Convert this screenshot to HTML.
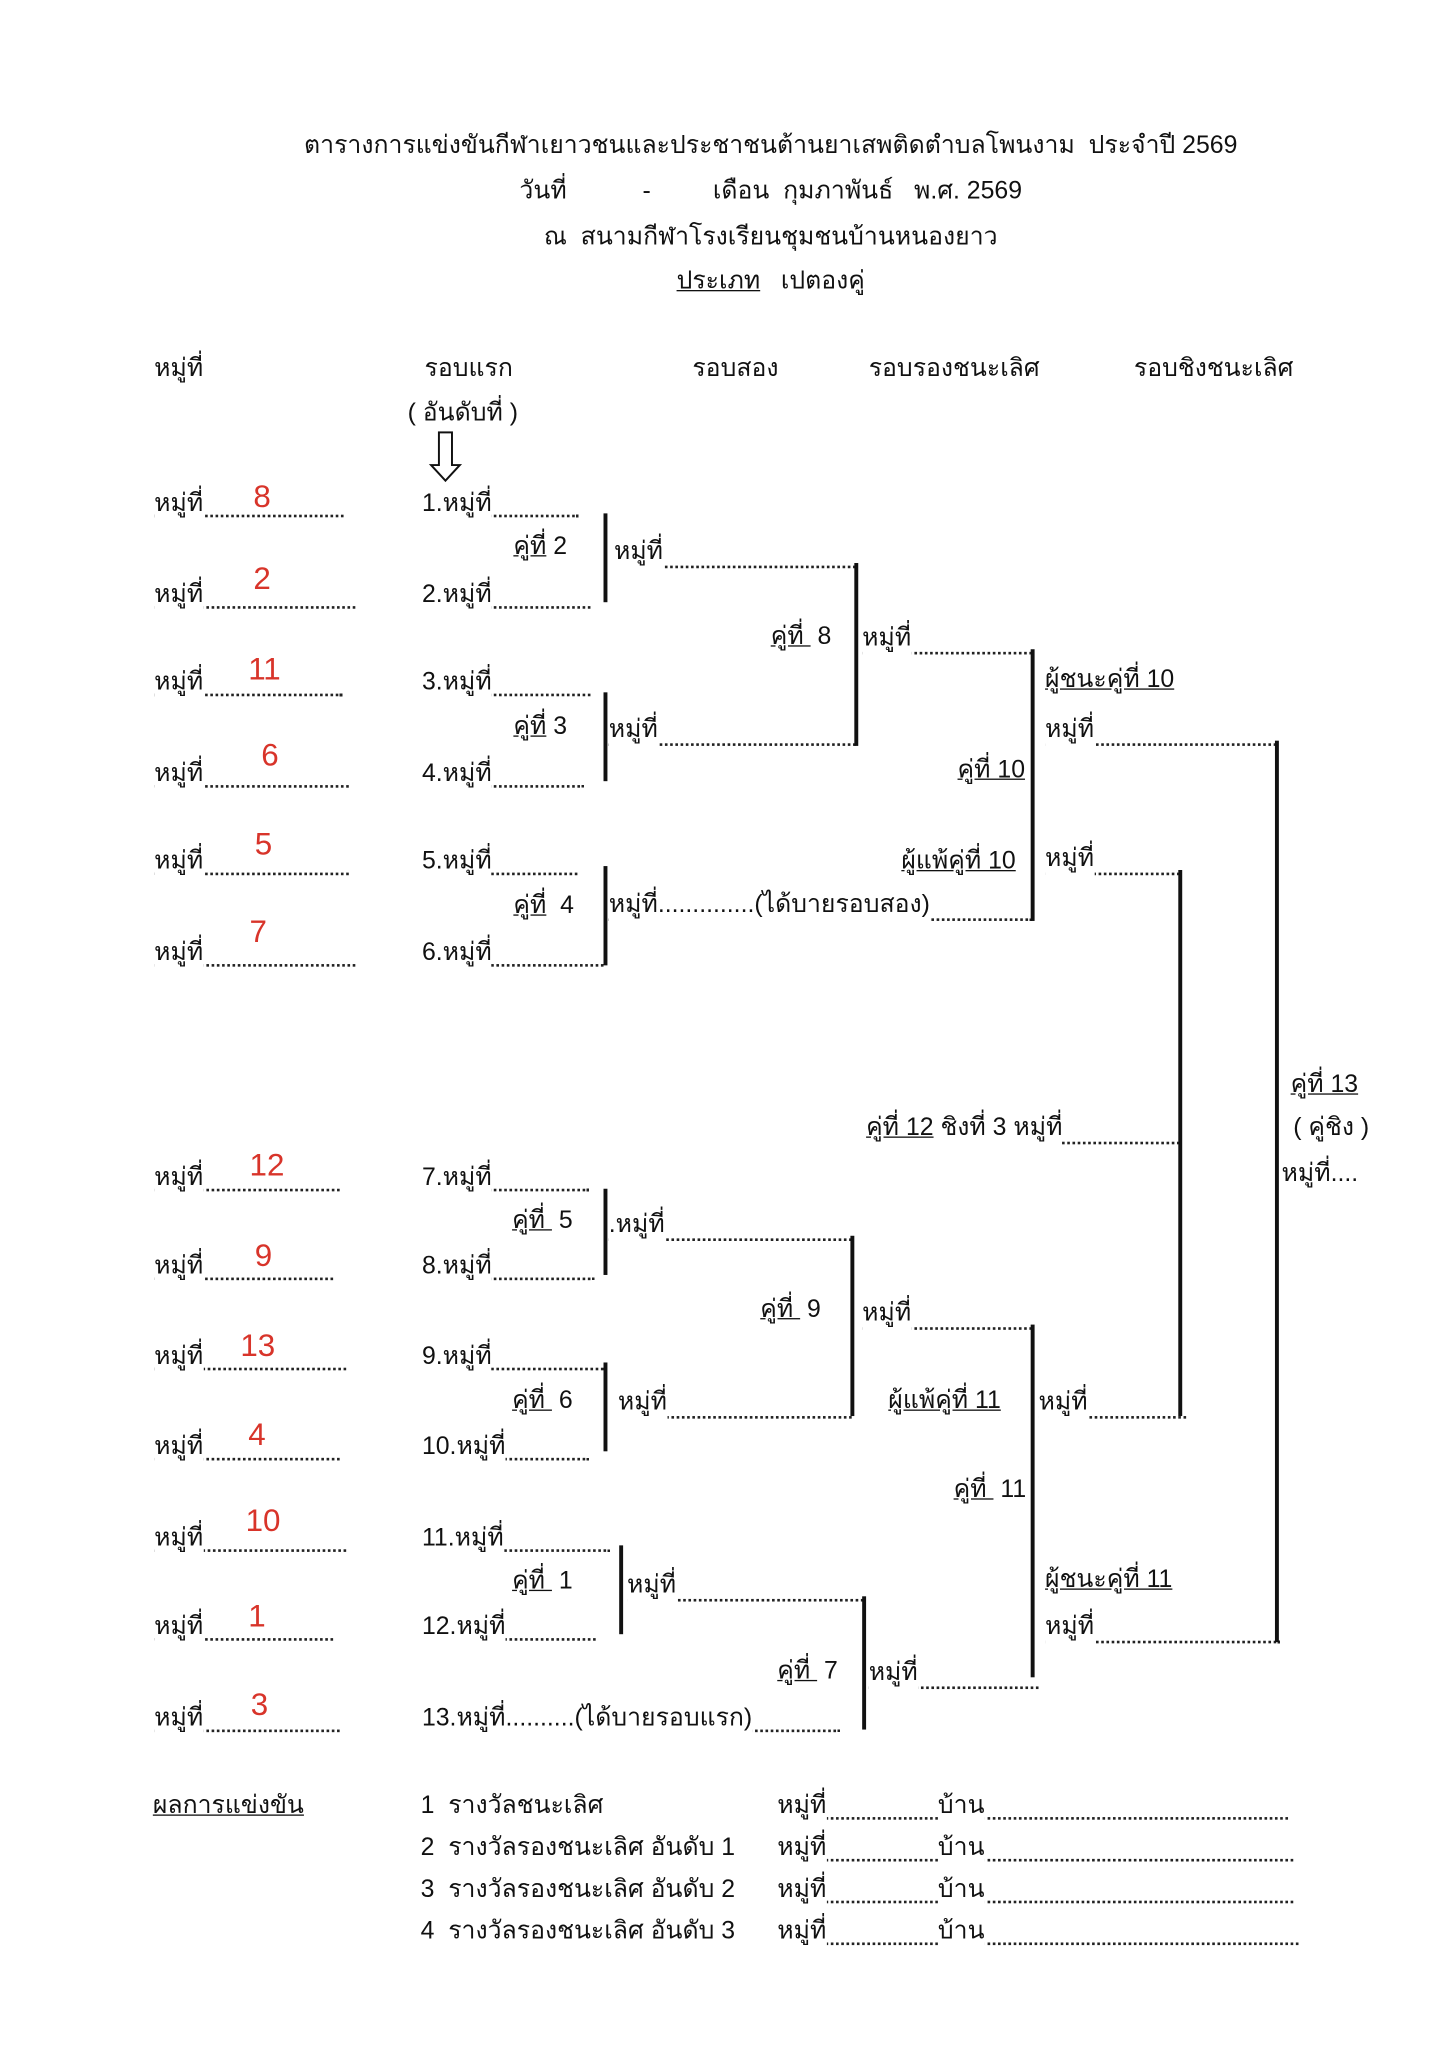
<!DOCTYPE html>
<html><head><meta charset="utf-8">
<style>
html,body{margin:0;padding:0;background:#fff;}
body{width:1450px;height:2048px;overflow:hidden;position:relative;}
#w{position:absolute;left:0;top:0;width:1110px;height:1568px;transform:scale(1.30631);transform-origin:0 0;font-family:"Liberation Sans","DejaVu Sans",sans-serif;color:#111;}
.t{position:absolute;font-size:19px;line-height:22px;white-space:nowrap;z-index:2;}
.t span{background:#fff;display:inline-block;padding-bottom:6px;vertical-align:top;}
.h{position:absolute;height:0;border-top:2px dotted #222;z-index:1;}
.v{position:absolute;width:3px;background:#111;z-index:3;}
.r{position:absolute;font-size:24px;line-height:26px;color:#d8342a;z-index:4;}
.c{position:absolute;left:0;width:1180px;text-align:center;font-size:19px;line-height:24px;white-space:nowrap;}
u{text-decoration:underline;}
</style></head><body><div id="w">

<div class="c" style="top:100px">ตารางการแข่งขันกีฬาเยาวชนและประชาชนต้านยาเสพติดตำบลโพนงาม&nbsp; ประจำปี 2569</div>
<div class="c" style="top:135px">วันที่ &nbsp; &nbsp; &nbsp; &nbsp; &nbsp; - &nbsp; &nbsp; &nbsp; &nbsp; เดือน&nbsp; กุมภาพันธ์ &nbsp; พ.ศ. 2569</div>
<div class="c" style="top:170px">ณ&nbsp; สนามกีฬาโรงเรียนชุมชนบ้านหนองยาว</div>
<div class="c" style="top:204px"><u>ประเภท</u> &nbsp; เปตองคู่</div>

<div class="t" style="left:118px;top:272px">หมู่ที่</div>
<div class="t" style="left:325px;top:272px">รอบแรก</div>
<div class="t" style="left:530px;top:272px">รอบสอง</div>
<div class="t" style="left:665px;top:272px">รอบรองชนะเลิศ</div>
<div class="t" style="left:868px;top:272px">รอบชิงชนะเลิศ</div>
<div class="t" style="left:312px;top:306px">( อันดับที่ )</div>
<svg style="position:absolute;left:328px;top:330px" width="26" height="40"><path d="M8 1 H18 V26 H24 L13 38 L2 26 H8 Z" fill="none" stroke="#111" stroke-width="1.5"/></svg>

<!-- left column -->
<div class="h" style="left:118px;width:145px;top:394px"></div><div class="t" style="left:118px;top:375px"><span>หมู่ที่</span></div><div class="r" style="left:194px;top:368px">8</div>
<div class="h" style="left:118px;width:154px;top:464px"></div><div class="t" style="left:118px;top:445px"><span>หมู่ที่</span></div><div class="r" style="left:194px;top:431px">2</div>
<div class="h" style="left:118px;width:144px;top:531px"></div><div class="t" style="left:118px;top:512px"><span>หมู่ที่</span></div><div class="r" style="left:190px;top:500px">11</div>
<div class="h" style="left:118px;width:149px;top:601px"></div><div class="t" style="left:118px;top:582px"><span>หมู่ที่</span></div><div class="r" style="left:200px;top:566px">6</div>
<div class="h" style="left:118px;width:149px;top:668px"></div><div class="t" style="left:118px;top:649px"><span>หมู่ที่</span></div><div class="r" style="left:195px;top:634px">5</div>
<div class="h" style="left:118px;width:154px;top:738px"></div><div class="t" style="left:118px;top:719px"><span>หมู่ที่</span></div><div class="r" style="left:191px;top:701px">7</div>
<div class="h" style="left:118px;width:142px;top:910px"></div><div class="t" style="left:118px;top:891px"><span>หมู่ที่</span></div><div class="r" style="left:191px;top:880px">12</div>
<div class="h" style="left:118px;width:137px;top:978px"></div><div class="t" style="left:118px;top:959px"><span>หมู่ที่</span></div><div class="r" style="left:195px;top:949px">9</div>
<div class="h" style="left:118px;width:147px;top:1047px"></div><div class="t" style="left:118px;top:1028px"><span>หมู่ที่</span></div><div class="r" style="left:184px;top:1018px">13</div>
<div class="h" style="left:118px;width:142px;top:1116px"></div><div class="t" style="left:118px;top:1097px"><span>หมู่ที่</span></div><div class="r" style="left:190px;top:1086px">4</div>
<div class="h" style="left:118px;width:147px;top:1186px"></div><div class="t" style="left:118px;top:1167px"><span>หมู่ที่</span></div><div class="r" style="left:188px;top:1152px">10</div>
<div class="h" style="left:118px;width:137px;top:1254px"></div><div class="t" style="left:118px;top:1235px"><span>หมู่ที่</span></div><div class="r" style="left:190px;top:1225px">1</div>
<div class="h" style="left:118px;width:142px;top:1324px"></div><div class="t" style="left:118px;top:1305px"><span>หมู่ที่</span></div><div class="r" style="left:192px;top:1293px">3</div>

<!-- seeds -->
<div class="h" style="left:323px;width:120px;top:394px"></div><div class="t" style="left:323px;top:375px"><span>1.หมู่ที่</span></div>
<div class="h" style="left:323px;width:129px;top:464px"></div><div class="t" style="left:323px;top:445px"><span>2.หมู่ที่</span></div>
<div class="h" style="left:323px;width:129px;top:531px"></div><div class="t" style="left:323px;top:512px"><span>3.หมู่ที่</span></div>
<div class="h" style="left:323px;width:124px;top:601px"></div><div class="t" style="left:323px;top:582px"><span>4.หมู่ที่</span></div>
<div class="h" style="left:323px;width:119px;top:668px"></div><div class="t" style="left:323px;top:649px"><span>5.หมู่ที่</span></div>
<div class="h" style="left:323px;width:139px;top:738px"></div><div class="t" style="left:323px;top:719px"><span>6.หมู่ที่</span></div>
<div class="h" style="left:323px;width:128px;top:910px"></div><div class="t" style="left:323px;top:891px"><span>7.หมู่ที่</span></div>
<div class="h" style="left:323px;width:132px;top:978px"></div><div class="t" style="left:323px;top:959px"><span>8.หมู่ที่</span></div>
<div class="h" style="left:323px;width:139px;top:1047px"></div><div class="t" style="left:323px;top:1028px"><span>9.หมู่ที่</span></div>
<div class="h" style="left:323px;width:128px;top:1116px"></div><div class="t" style="left:323px;top:1097px"><span>10.หมู่ที่</span></div>
<div class="h" style="left:323px;width:144px;top:1186px"></div><div class="t" style="left:323px;top:1167px"><span>11.หมู่ที่</span></div>
<div class="h" style="left:323px;width:133px;top:1254px"></div><div class="t" style="left:323px;top:1235px"><span>12.หมู่ที่</span></div>
<div class="h" style="left:323px;width:320px;top:1324px"></div><div class="t" style="left:323px;top:1305px"><span>13.หมู่ที่..........(ได้บายรอบแรก)</span></div>

<!-- round 2 lines -->
<div class="h" style="left:470px;width:185px;top:433px"></div><div class="t" style="left:470px;top:412px"><span>หมู่ที่</span></div>
<div class="h" style="left:466px;width:189px;top:569px"></div><div class="t" style="left:466px;top:548px"><span>หมู่ที่</span></div>
<div class="h" style="left:466px;width:324px;top:703px"></div><div class="t" style="left:466px;top:682px"><span>หมู่ที่..............(ได้บายรอบสอง)</span></div>
<div class="h" style="left:660px;width:130px;top:499px"></div><div class="t" style="left:660px;top:478px"><span>หมู่ที่</span></div>
<div class="h" style="left:800px;width:177px;top:569px"></div><div class="t" style="left:800px;top:548px"><span>หมู่ที่</span></div>
<div class="h" style="left:800px;width:103px;top:668px"></div><div class="t" style="left:800px;top:647px"><span>หมู่ที่</span></div>
<div class="h" style="left:700px;width:203px;top:874px"></div><div class="t" style="left:663px;top:853px"><span><u>คู่ที่ 12</u> ชิงที่ 3 หมู่ที่</span></div>
<div class="t" style="left:981px;top:888px"><span>หมู่ที่....</span></div>

<div class="h" style="left:466px;width:186px;top:948px"></div><div class="t" style="left:466px;top:927px"><span>.หมู่ที่</span></div>
<div class="h" style="left:473px;width:179px;top:1084px"></div><div class="t" style="left:473px;top:1063px"><span>หมู่ที่</span></div>
<div class="h" style="left:660px;width:130px;top:1016px"></div><div class="t" style="left:660px;top:995px"><span>หมู่ที่</span></div>
<div class="h" style="left:795px;width:113px;top:1084px"></div><div class="t" style="left:795px;top:1063px"><span>หมู่ที่</span></div>
<div class="h" style="left:480px;width:181px;top:1224px"></div><div class="t" style="left:480px;top:1203px"><span>หมู่ที่</span></div>
<div class="h" style="left:665px;width:130px;top:1291px"></div><div class="t" style="left:665px;top:1270px"><span>หมู่ที่</span></div>
<div class="h" style="left:800px;width:180px;top:1256px"></div><div class="t" style="left:800px;top:1235px"><span>หมู่ที่</span></div>

<!-- verticals -->
<div class="v" style="left:462px;top:393px;height:68px"></div>
<div class="v" style="left:462px;top:530px;height:68px"></div>
<div class="v" style="left:462px;top:663px;height:76px"></div>
<div class="v" style="left:654px;top:431px;height:140px"></div>
<div class="v" style="left:789px;top:497px;height:208px"></div>
<div class="v" style="left:976px;top:567px;height:690px"></div>
<div class="v" style="left:902px;top:666px;height:418px"></div>
<div class="v" style="left:462px;top:910px;height:66px"></div>
<div class="v" style="left:462px;top:1043px;height:68px"></div>
<div class="v" style="left:651px;top:946px;height:138px"></div>
<div class="v" style="left:789px;top:1014px;height:270px"></div>
<div class="v" style="left:474px;top:1183px;height:68px"></div>
<div class="v" style="left:660px;top:1222px;height:102px"></div>

<!-- labels -->
<div class="t" style="left:393px;top:408px"><u>คู่ที่</u> 2</div>
<div class="t" style="left:393px;top:546px"><u>คู่ที่</u> 3</div>
<div class="t" style="left:393px;top:683px"><u>คู่ที่</u>&nbsp; 4</div>
<div class="t" style="left:590px;top:477px"><u>คู่ที่&nbsp;</u> 8</div>
<div class="t" style="left:733px;top:579px"><u>คู่ที่ 10</u></div>
<div class="t" style="left:690px;top:649px"><u>ผู้แพ้คู่ที่ 10</u></div>
<div class="t" style="left:800px;top:510px"><u>ผู้ชนะคู่ที่ 10</u></div>
<div class="t" style="left:988px;top:820px"><u>คู่ที่ 13</u></div>
<div class="t" style="left:990px;top:853px">( คู่ชิง )</div>
<div class="t" style="left:392px;top:924px"><u>คู่ที่&nbsp;</u> 5</div>
<div class="t" style="left:392px;top:1062px"><u>คู่ที่&nbsp;</u> 6</div>
<div class="t" style="left:582px;top:992px"><u>คู่ที่&nbsp;</u> 9</div>
<div class="t" style="left:680px;top:1062px"><u>ผู้แพ้คู่ที่ 11</u></div>
<div class="t" style="left:730px;top:1130px"><u>คู่ที่&nbsp;</u> 11</div>
<div class="t" style="left:392px;top:1200px"><u>คู่ที่&nbsp;</u> 1</div>
<div class="t" style="left:595px;top:1269px"><u>คู่ที่&nbsp;</u> 7</div>
<div class="t" style="left:800px;top:1199px"><u>ผู้ชนะคู่ที่ 11</u></div>

<!-- results -->
<div class="t" style="left:117px;top:1372px"><u>ผลการแข่งขัน</u></div>
<div class="t" style="left:322px;top:1372px">1&nbsp; รางวัลชนะเลิศ</div>
<div class="t" style="left:322px;top:1404px">2&nbsp; รางวัลรองชนะเลิศ อันดับ 1</div>
<div class="t" style="left:322px;top:1436px">3&nbsp; รางวัลรองชนะเลิศ อันดับ 2</div>
<div class="t" style="left:322px;top:1468px">4&nbsp; รางวัลรองชนะเลิศ อันดับ 3</div>
<div class="h" style="left:595px;width:391px;top:1391px"></div><div class="t" style="left:595px;top:1372px"><span>หมู่ที่</span></div><div class="t" style="left:718px;top:1372px"><span>บ้าน</span></div>
<div class="h" style="left:595px;width:395px;top:1423px"></div><div class="t" style="left:595px;top:1404px"><span>หมู่ที่</span></div><div class="t" style="left:718px;top:1404px"><span>บ้าน</span></div>
<div class="h" style="left:595px;width:395px;top:1455px"></div><div class="t" style="left:595px;top:1436px"><span>หมู่ที่</span></div><div class="t" style="left:718px;top:1436px"><span>บ้าน</span></div>
<div class="h" style="left:595px;width:399px;top:1487px"></div><div class="t" style="left:595px;top:1468px"><span>หมู่ที่</span></div><div class="t" style="left:718px;top:1468px"><span>บ้าน</span></div>

</div></body></html>
